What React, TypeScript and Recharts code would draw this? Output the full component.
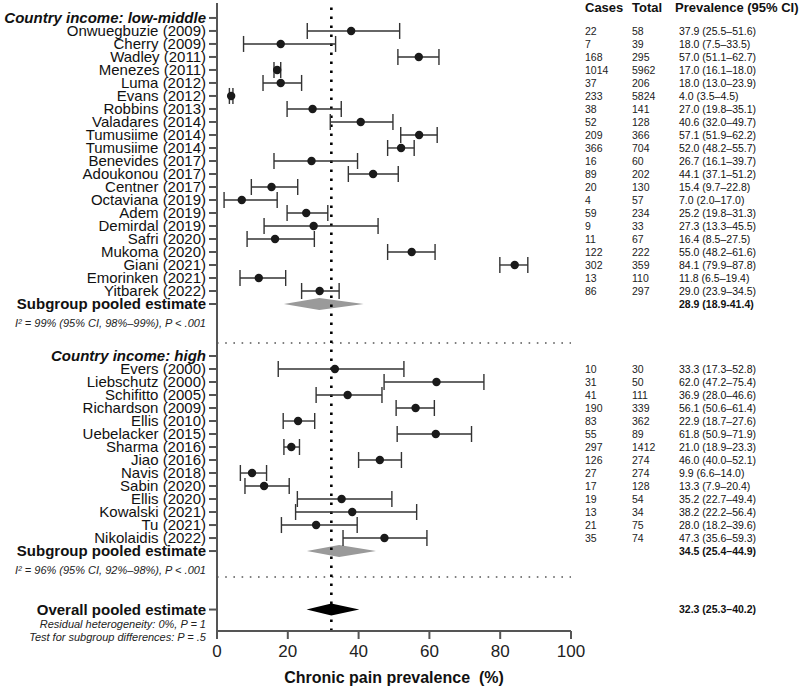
import React from "react";
import {
  ComposedChart,
  Scatter,
  ErrorBar,
  XAxis,
  YAxis,
  ReferenceLine,
  ReferenceArea,
} from "recharts";

// Country income: low-middle
const lowNames = [
  "Onwuegbuzie (2009)", "Cherry (2009)", "Wadley (2011)", "Menezes (2011)", "Luma (2012)",
  "Evans (2012)", "Robbins (2013)", "Valadares (2014)", "Tumusiime (2014)", "Tumusiime (2014)",
  "Benevides (2017)", "Adoukonou (2017)", "Centner (2017)", "Octaviana (2019)", "Adem (2019)",
  "Demirdal (2019)", "Safri (2020)", "Mukoma (2020)", "Giani (2021)", "Emorinken (2021)",
  "Yitbarek (2022)",
];
const lowCases = [22, 7, 168, 1014, 37, 233, 38, 52, 209, 366, 16, 89, 20, 4, 59, 9, 11, 122, 302, 13, 86];
const lowTotal = [58, 39, 295, 5962, 206, 5824, 141, 128, 366, 704, 60, 202, 130, 57, 234, 33, 67, 222, 359, 110, 297];
const lowEst = [37.9, 18.0, 57.0, 17.0, 18.0, 4.0, 27.0, 40.6, 57.1, 52.0, 26.7, 44.1, 15.4, 7.0, 25.2, 27.3, 16.4, 55.0, 84.1, 11.8, 29.0];
const lowLo = [25.5, 7.5, 51.1, 16.1, 13.0, 3.5, 19.8, 32.0, 51.9, 48.2, 16.1, 37.1, 9.7, 2.0, 19.8, 13.3, 8.5, 48.2, 79.9, 6.5, 23.9];
const lowHi = [51.6, 33.5, 62.7, 18.0, 23.9, 4.5, 35.1, 49.7, 62.2, 55.7, 39.7, 51.2, 22.8, 17.0, 31.3, 45.5, 27.5, 61.6, 87.8, 19.4, 34.5];

// Country income: high
const highNames = [
  "Evers (2000)", "Liebschutz (2000)", "Schifitto (2005)", "Richardson (2009)", "Ellis (2010)",
  "Uebelacker (2015)", "Sharma (2016)", "Jiao (2016)", "Navis (2018)", "Sabin (2020)",
  "Ellis (2020)", "Kowalski (2021)", "Tu (2021)", "Nikolaidis (2022)",
];
const highCases = [10, 31, 41, 190, 83, 55, 297, 126, 27, 17, 19, 13, 21, 35];
const highTotal = [30, 50, 111, 339, 362, 89, 1412, 274, 274, 128, 54, 34, 75, 74];
const highEst = [33.3, 62.0, 36.9, 56.1, 22.9, 61.8, 21.0, 46.0, 9.9, 13.3, 35.2, 38.2, 28.0, 47.3];
const highLo = [17.3, 47.2, 28.0, 50.6, 18.7, 50.9, 18.9, 40.0, 6.6, 7.9, 22.7, 22.2, 18.2, 35.6];
const highHi = [52.8, 75.4, 46.6, 61.4, 27.6, 71.9, 23.3, 52.1, 14.0, 20.4, 49.4, 56.4, 39.6, 59.3];

// pooled estimates: [estimate, lower, upper]
const pooledLow = [28.9, 18.9, 41.4];
const pooledHigh = [34.5, 25.4, 44.9];
const pooledAll = [32.3, 25.3, 40.2];

const xTicks = [0, 20, 40, 60, 80, 100];

// row positions (0 = top)
const lowHeaderRow = 0;
const lowPooledRow = 22;
const sepRows = [25, 43];
const highHeaderRow = 26;
const highPooledRow = 41;
const overallRow = 45.5;

const fmt = (v: number) => v.toFixed(1);

type Row = {
  label: string;
  kind: "header" | "study" | "pooled";
  cases?: number;
  total?: number;
  prev?: string;
  notes?: { text: string; dy: number }[];
  tableHeader?: boolean;
};

const rowInfo = new Map<number, Row>();
rowInfo.set(lowHeaderRow, { label: "Country income: low-middle", kind: "header", tableHeader: true });
lowNames.forEach((n, i) =>
  rowInfo.set(lowHeaderRow + 1 + i, {
    label: n,
    kind: "study",
    cases: lowCases[i],
    total: lowTotal[i],
    prev: `${fmt(lowEst[i])} (${fmt(lowLo[i])}–${fmt(lowHi[i])})`,
  })
);
rowInfo.set(lowPooledRow, {
  label: "Subgroup pooled estimate",
  kind: "pooled",
  prev: `${fmt(pooledLow[0])} (${fmt(pooledLow[1])}-${fmt(pooledLow[2])})`,
  notes: [{ text: "I² = 99% (95% CI, 98%–99%), P < .001", dy: 19.5 }],
});
rowInfo.set(highHeaderRow, { label: "Country income: high", kind: "header" });
highNames.forEach((n, i) =>
  rowInfo.set(highHeaderRow + 1 + i, {
    label: n,
    kind: "study",
    cases: highCases[i],
    total: highTotal[i],
    prev: `${fmt(highEst[i])} (${fmt(highLo[i])}–${fmt(highHi[i])})`,
  })
);
rowInfo.set(highPooledRow, {
  label: "Subgroup pooled estimate",
  kind: "pooled",
  prev: `${fmt(pooledHigh[0])} (${fmt(pooledHigh[1])}–${fmt(pooledHigh[2])})`,
  notes: [{ text: "I² = 96% (95% CI, 92%–98%), P < .001", dy: 19 }],
});
rowInfo.set(overallRow, {
  label: "Overall pooled estimate",
  kind: "pooled",
  prev: `${fmt(pooledAll[0])} (${fmt(pooledAll[1])}–${fmt(pooledAll[2])})`,
  notes: [
    { text: "Residual heterogeneity: 0%, P = 1", dy: 14 },
    { text: "Test for subgroup differences: P = .5", dy: 27.5 },
  ],
});
const yTicks = Array.from(rowInfo.keys()).sort((a, b) => a - b);

const studies = [
  ...lowNames.map((_, i) => ({
    x: lowEst[i],
    y: lowHeaderRow + 1 + i,
    err: [lowEst[i] - lowLo[i], lowHi[i] - lowEst[i]],
  })),
  ...highNames.map((_, i) => ({
    x: highEst[i],
    y: highHeaderRow + 1 + i,
    err: [highEst[i] - highLo[i], highHi[i] - highEst[i]],
  })),
];

const diamonds = [
  { p: pooledLow, row: lowPooledRow, color: "#9a9a9a" },
  { p: pooledHigh, row: highPooledRow, color: "#9a9a9a" },
  { p: pooledAll, row: overallRow, color: "#000" },
];

const COL_CASES = 585;
const COL_TOTAL = 632;
const COL_PREV = 679;

const RowTick = (props: any) => {
  const { x, y, payload } = props;
  const row = rowInfo.get(payload.value);
  if (!row) return null;
  const weight = row.kind === "study" ? "normal" : "bold";
  const style = row.kind === "header" ? "italic" : "normal";
  return (
    <g>
      <text x={x} y={y} dy="0.36em" textAnchor="end" fontSize={15} fontWeight={weight} fontStyle={style} fill="#111">
        {row.label}
      </text>
      {row.notes?.map((n, i) => (
        <text key={i} x={x} y={y + n.dy} dy="0.36em" textAnchor="end" fontSize={11} fontStyle="italic" fill="#222">
          {n.text}
        </text>
      ))}
      {row.cases !== undefined && (
        <text x={COL_CASES} y={y} dy="0.36em" fontSize={10.5} fill="#222">{row.cases}</text>
      )}
      {row.total !== undefined && (
        <text x={COL_TOTAL} y={y} dy="0.36em" fontSize={10.5} fill="#222">{row.total}</text>
      )}
      {row.prev && (
        <text x={COL_PREV} y={y} dy="0.36em" fontSize={10.5} fontWeight={row.kind === "pooled" ? "bold" : "normal"} fill="#111">
          {row.prev}
        </text>
      )}
      {row.tableHeader && (
        <text y={y - 11} dy="0.36em" fontSize={13} fontWeight="bold" fill="#111">
          <tspan x={COL_CASES}>Cases</tspan>
          <tspan x={COL_TOTAL}>Total</tspan>
          <tspan x={675}>Prevalence (95% CI)</tspan>
        </text>
      )}
    </g>
  );
};

const makeDiamond = (frac: number, color: string) => (props: any) => {
  const { x, y, width, height } = props;
  const cx = x + width * frac;
  const cy = y + height / 2;
  return (
    <polygon
      points={`${x},${cy} ${cx},${y} ${x + width},${cy} ${cx},${y + height}`}
      fill={color}
      stroke="none"
    />
  );
};

const Dot = (props: any) => <circle cx={props.cx} cy={props.cy} r={4.2} fill="#1a1a1a" />;

export default function App() {
  return (
    <div style={{ position: "absolute", left: 0, top: 0, fontFamily: "'Liberation Sans', Arial, sans-serif" }}>
      <ComposedChart
        width={800}
        height={686}
        data={studies}
        margin={{ top: 3, right: 229, bottom: 0, left: 0 }}
        style={{ fontFamily: "'Liberation Sans', Arial, sans-serif" }}
      >
        <XAxis
          dataKey="x"
          type="number"
          domain={[0, 100]}
          ticks={xTicks}
          allowDataOverflow
          height={55}
          stroke="#555"
          strokeWidth={2}
          tickSize={8}
          tickMargin={6}
          tick={{ fontSize: 17, fill: "#222" }}
          label={{
            value: "Chronic pain prevalence\u00A0\u00A0(%)",
            position: "insideBottom",
            offset: 3,
            style: { fontSize: 16, fontWeight: "bold", fill: "#111" },
          }}
        />
        <YAxis
          dataKey="y"
          type="number"
          domain={[-1.15, 47.15]}
          reversed
          allowDataOverflow
          ticks={yTicks}
          interval={0}
          width={217}
          stroke="#555"
          strokeWidth={2}
          tickSize={8}
          tickMargin={3}
          tick={<RowTick />}
        />
        {diamonds.map((d, i) => (
          <ReferenceArea
            key={i}
            x1={d.p[1]}
            x2={d.p[2]}
            y1={d.row - 0.46}
            y2={d.row + 0.46}
            shape={makeDiamond((d.p[0] - d.p[1]) / (d.p[2] - d.p[1]), d.color)}
          />
        ))}
        {sepRows.map((r) => (
          <ReferenceLine key={r} y={r} stroke="#555" strokeWidth={1.6} strokeDasharray="1.6 6.6" />
        ))}
        <ReferenceLine x={pooledAll[0]} stroke="#000" strokeWidth={2.6} strokeDasharray="2.4 6.6" />
        <Scatter data={studies} shape={<Dot />} isAnimationActive={false}>
          <ErrorBar dataKey="err" direction="x" width={8} stroke="#333" strokeWidth={1.4} isAnimationActive={false} />
        </Scatter>
      </ComposedChart>
    </div>
  );
}
